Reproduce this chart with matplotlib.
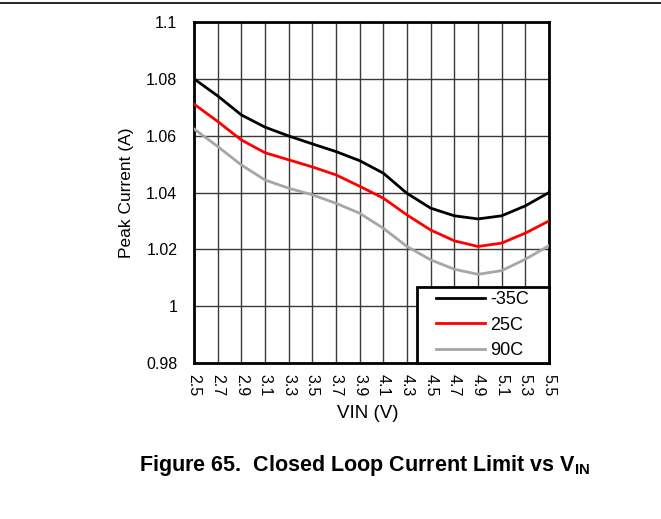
import matplotlib
matplotlib.use("Agg")
import matplotlib.pyplot as plt
from matplotlib.lines import Line2D
from matplotlib.legend_handler import HandlerLine2D

plt.rcParams['font.family'] = ['Liberation Sans', 'DejaVu Sans']
plt.rcParams['mathtext.fontset'] = 'custom'
plt.rcParams['mathtext.rm'] = 'Liberation Sans'
plt.rcParams['mathtext.bf'] = 'Liberation Sans:bold'

vin = [2.5, 2.7, 2.9, 3.1, 3.3, 3.5, 3.7, 3.9, 4.1, 4.3, 4.5, 4.7, 4.9, 5.1, 5.3, 5.5]
x_labels = ["2.5", "2.7", "2.9", "3.1", "3.3", "3.5", "3.7", "3.9", "4.1", "4.3",
            "4.5", "4.7", "4.9", "5.1", "5.3", "5.5"]
t_m35 = [1.080, 1.074, 1.0673, 1.063, 1.0599, 1.0571, 1.0544, 1.0512, 1.0468, 1.0397,
         1.0345, 1.0318, 1.0307, 1.0318, 1.0353, 1.040]
t_25 = [1.0711, 1.065, 1.0585, 1.054, 1.0515, 1.049, 1.0462, 1.0422, 1.038, 1.0321,
        1.0268, 1.0230, 1.021, 1.0222, 1.0257, 1.030]
t_90 = [1.0624, 1.0562, 1.0497, 1.0444, 1.0415, 1.0392, 1.0362, 1.0327, 1.0274, 1.021,
        1.0163, 1.013, 1.0112, 1.0125, 1.0165, 1.0213]
y_ticks = [0.98, 1.0, 1.02, 1.04, 1.06, 1.08, 1.1]
y_labels = ["0.98", "1", "1.02", "1.04", "1.06", "1.08", "1.1"]


class OffsetHandler(HandlerLine2D):
    """Line handle drawn in the right part of the handle box (left padding)."""
    def get_xdata(self, legend, xdescent, ydescent, width, height, fontsize):
        start = -xdescent + 0.25 * width
        end = -xdescent + width
        return [start, end], [start, end]


fig = plt.figure(figsize=(6.61, 5.19), dpi=100)
ax = fig.add_axes([194/661, 1-363/519, (549-194)/661, (363-22)/519])

ax.plot(vin, t_m35, color='black', lw=2, label='-35C', zorder=3, solid_joinstyle='round')
ax.plot(vin, t_25, color='#ff0000', lw=2, label='25C', zorder=3, solid_joinstyle='round')
ax.plot(vin, t_90, color='#a6a6a6', lw=2, label='90C', zorder=3, solid_joinstyle='round')

ax.set_xlim(2.5, 5.5)
ax.set_ylim(0.98, 1.1)
ax.set_xticks(vin)
ax.set_xticklabels(x_labels, rotation=-90, fontsize=11.5)
ax.set_yticks(y_ticks)
ax.set_yticklabels(y_labels, fontsize=11.5)
ax.tick_params(axis='y', length=0, pad=12)
ax.tick_params(axis='x', length=0, pad=8)
ax.grid(True, color='#3a3a3a', lw=1)
ax.set_axisbelow(True)
for s in ax.spines.values():
    s.set_linewidth(2)
    s.set_color('black')

ax.set_xlabel('VIN (V)', fontsize=13.5)
ax.xaxis.set_label_coords(0.49, -0.122)
ax.set_ylabel('Peak Current (A)', fontsize=12.5, va='center')
ax.yaxis.set_label_coords(-0.19, 0.4985)

leg = ax.legend(loc='lower left', bbox_to_anchor=(0.627, 0.0, 0.373, 0.2),
                mode='expand', fontsize=13, frameon=True, fancybox=False,
                borderaxespad=0, handlelength=3.6, handletextpad=0.3,
                labelspacing=0.48, borderpad=0.2,
                handler_map={Line2D: OffsetHandler()})
leg.get_frame().set_edgecolor('black')
leg.get_frame().set_linewidth(2)
leg.get_frame().set_alpha(1)

fig.add_artist(Line2D([0, 1], [1-3/519, 1-3/519], color='black', lw=1.2,
                      transform=fig.transFigure))
fig.text(364/661, 1-471/519, r'Figure 65.  Closed Loop Current Limit vs V$_{\mathbf{IN}}$',
         fontsize=15.5, fontweight='bold', ha='center', va='baseline')

fig.savefig('out.png', dpi=100)
